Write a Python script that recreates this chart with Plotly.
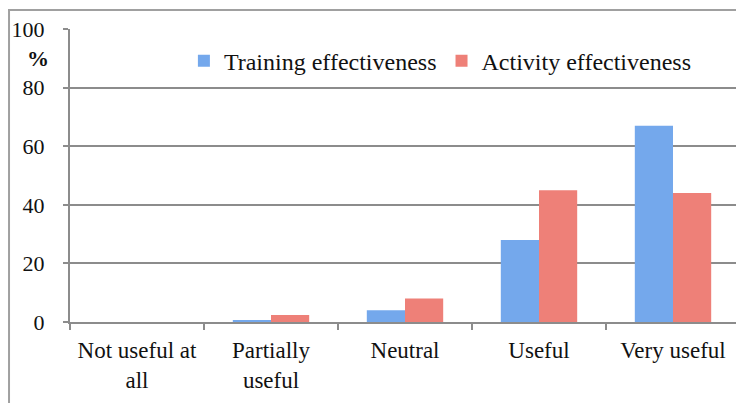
import plotly.graph_objects as go

categories = ["Not useful at<br>all", "Partially<br>useful", "Neutral", "Useful", "Very useful"]
training = [0, 0.7, 4, 28, 67]
activity = [0, 2.4, 8, 45, 44]
y_ticks = [0, 20, 40, 60, 80, 100]

FONT = "Liberation Serif"

fig = go.Figure()
fig.add_bar(name="Training effectiveness", x=categories, y=training,
            marker=dict(color="#74a8ec", line=dict(width=0)))
fig.add_bar(name="Activity effectiveness", x=categories, y=activity,
            marker=dict(color="#ee8078", line=dict(width=0)))

fig.update_layout(
    width=736, height=395,
    margin=dict(l=62, r=4, t=21, b=81),
    paper_bgcolor="white", plot_bgcolor="white",
    barmode="group", bargap=0.43, bargroupgap=0,
    font=dict(family=FONT, size=23, color="#111"),
    legend=dict(orientation="h", x=0.17, y=0.89, xanchor="left", yanchor="middle",
                font=dict(family=FONT, size=24), itemwidth=30,
                bgcolor="rgba(0,0,0,0)", traceorder="normal"),
    showlegend=True,
)
fig.update_xaxes(showline=True, linecolor="#8c8c8c", linewidth=2,
                 ticks="outside", tickson="boundaries", ticklen=6, tickcolor="#8c8c8c",
                 tickwidth=2, tickfont=dict(family=FONT, size=23), showgrid=False,
                 ticklabelstandoff=6)
fig.update_yaxes(range=[0, 100], tickvals=y_ticks, showline=True, linecolor="#8c8c8c",
                 linewidth=2, ticks="outside", ticklen=5, tickcolor="#8c8c8c", tickwidth=2,
                 gridcolor="#8c8c8c", gridwidth=2, zeroline=False,
                 tickfont=dict(family=FONT, size=22), ticklabelstandoff=14)

fig.add_annotation(text="<b>%</b>", xref="paper", yref="paper", x=-0.048, y=0.9,
                   xanchor="center", yanchor="middle",
                   showarrow=False, font=dict(family=FONT, size=22, color="#111"))
fig.add_shape(type="rect", xref="paper", yref="paper", x0=-0.091, x1=1.2, y0=-0.4, y1=1.065,
              line=dict(color="#a0a0a0", width=2), fillcolor="rgba(0,0,0,0)", layer="below")

fig.write_html("out.html")
